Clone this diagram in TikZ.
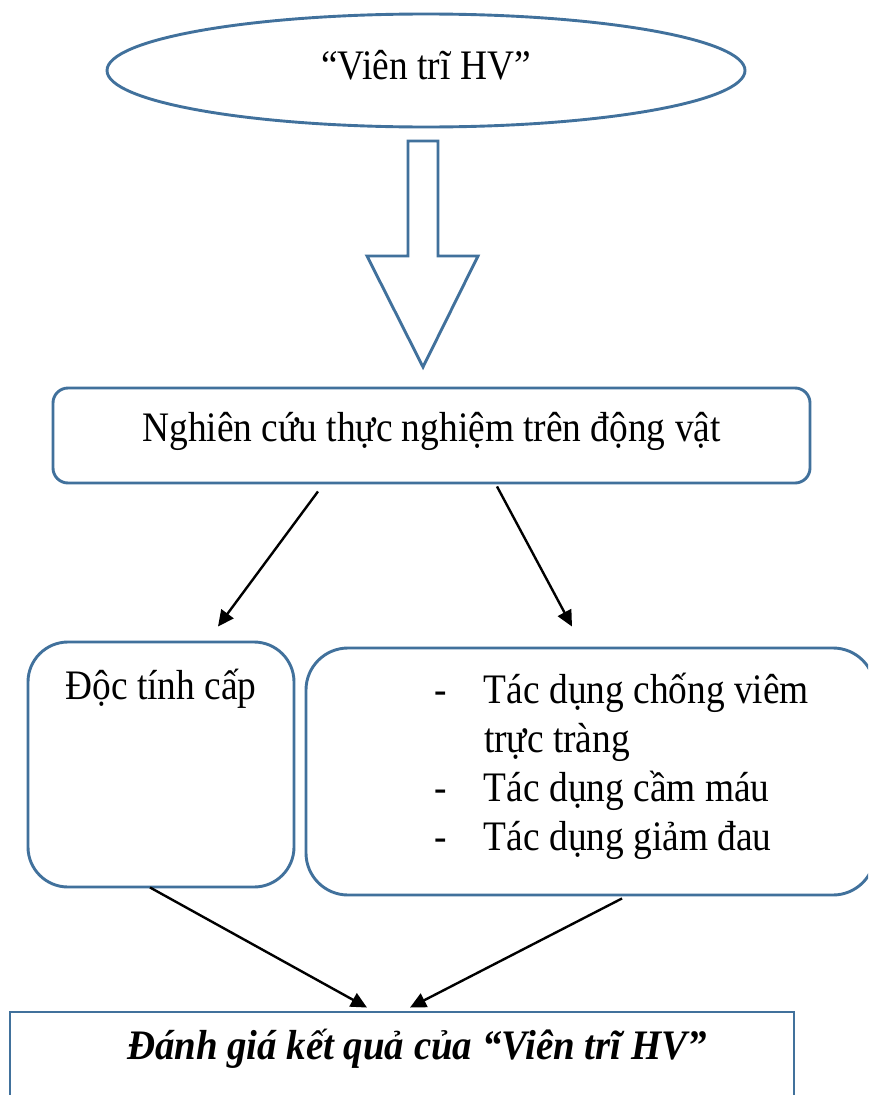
\documentclass[tikz,border=0pt]{standalone}
\usepackage{fontspec}
\setmainfont{Liberation Serif}[FakeStretch=0.89]
\newfontfamily\bifont{Liberation Serif}[FakeStretch=0.925]
\usetikzlibrary{shapes.geometric,arrows.meta}
\definecolor{bord}{RGB}{65,113,156}
\tikzset{
  shp/.style={draw=bord, line width=2.9pt, inner sep=0pt},
  rbox/.style={shp, rectangle},
  conn/.style={draw=black, line width=2.4pt, -{Triangle[length=16pt,width=15pt]}},
  big/.style={font=\fontsize{42}{49.3}\selectfont}
}
\begin{document}
\begin{tikzpicture}[x=1pt,y=-1pt]
\useasboundingbox (0,0) rectangle (868,1095);
\clip (0,0) rectangle (868,1095);
\fill[white] (0,0) rectangle (868,1095);

% top ellipse
\node[shp, ellipse, big, minimum width=638pt, minimum height=113pt,
      text height=30pt, text depth=13pt] (ell) at (426,70.5) {“Viên trĩ HV”};

% block arrow
\draw[draw=bord, line width=2.9pt, line join=miter, fill=white]
  (408,141) -- (438,141) -- (438,256) -- (478,256) -- (423,367)
  -- (367,256) -- (408,256) -- cycle;

% box 1
\node[rbox, rounded corners=15pt, big, minimum width=757pt, minimum height=95pt,
      text height=30pt, text depth=19pt] (b1) at (431.5,435.5)
  {Nghiên cứu thực nghiệm trên động vật};

% box 2
\node[rbox, rounded corners=40pt, big, minimum width=266pt,
      text height=57pt, text depth=188pt] (b2) at (161,764.5) {Độc tính cấp};

% box 3
\node[rbox, rounded corners=42pt, big, text width=569pt, align=flush left,
      text height=55pt, text depth=192pt] (b3) at (590.5,771.5)
  {\hspace*{128pt}\makebox[50pt][l]{-}Tác dụng chống viêm\\
   \hspace*{178pt}trực tràng\\
   \hspace*{128pt}\makebox[50pt][l]{-}Tác dụng cầm máu\\
   \hspace*{128pt}\makebox[50pt][l]{-}Tác dụng giảm đau};

% bottom box
\node[rbox, big, text width=784pt, align=flush left,
      text height=47pt, text depth=71pt] (b4) at (402,1071)
  {\hspace*{117pt}{\bifont\bfseries\itshape Đánh giá kết quả của “Viên trĩ HV”}};

% connectors
\draw[conn] ([xshift=-113.5pt,yshift=-7pt]b1.south) -- ([xshift=57pt,yshift=14pt]b2.north);
\draw[conn] ([xshift=65.5pt,yshift=-2pt]b1.south) -- ([xshift=-18.5pt,yshift=20pt]b3.north);
\draw[conn] ([xshift=-11pt,yshift=1pt]b2.south) -- ([xshift=-35pt,yshift=3pt]b4.north);
\draw[conn] ([xshift=31.5pt,yshift=-2pt]b3.south) -- ([xshift=8pt,yshift=3pt]b4.north);
\end{tikzpicture}
\end{document}
